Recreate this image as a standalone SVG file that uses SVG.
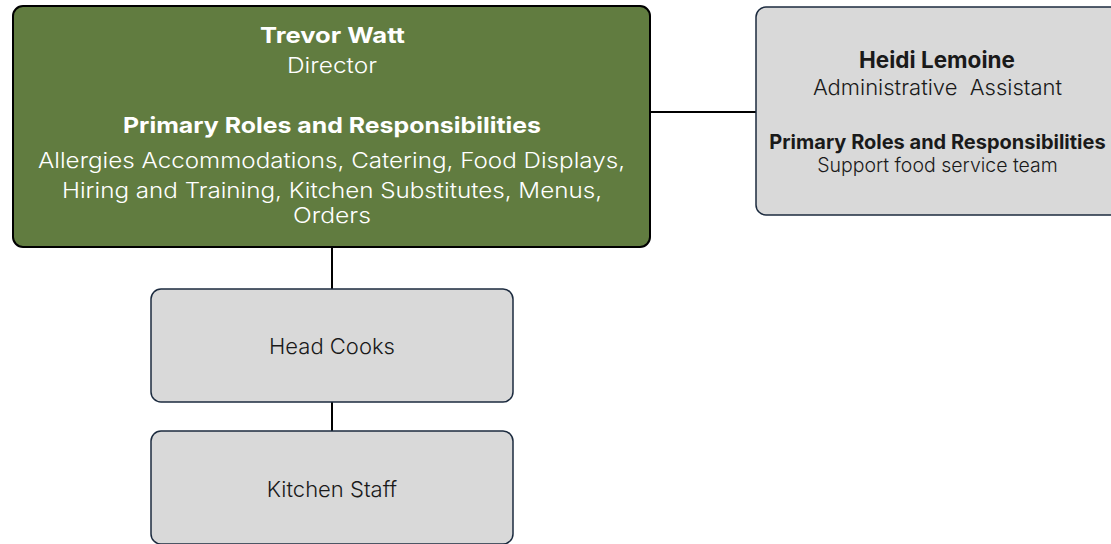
<svg xmlns="http://www.w3.org/2000/svg" width="1111" height="544" viewBox="0 0 1111 544">
<style>
text{font-family:Inter,"Noto Sans","Liberation Sans",sans-serif;text-anchor:middle}
.w{fill:#ffffff}
.d{fill:#1a1a1a}
.b{font-weight:700}
.l{font-weight:300}
.gray{fill:#d9d9d9;stroke:#1c2b3f;stroke-width:1.5}
.conn{stroke:#000;stroke-width:2;fill:none}
</style>
<rect width="1111" height="544" fill="#ffffff"/>
<g id="connectors">
<line class="conn" x1="650" y1="112" x2="757" y2="112"/>
<line class="conn" x1="332" y1="247" x2="332" y2="289"/>
<line class="conn" x1="332" y1="402" x2="332" y2="431"/>
</g>
<g id="director">
<rect x="13" y="6" width="637" height="241" rx="10" fill="#617c40" stroke="#000" stroke-width="2"/>
<text class="w b" x="332.5" y="43" font-size="22" textLength="145" lengthAdjust="spacingAndGlyphs">Trevor Watt</text>
<text class="w l" x="332" y="73" font-size="22" textLength="90" lengthAdjust="spacingAndGlyphs">Director</text>
<text class="w b" x="332" y="133" font-size="22" textLength="418" lengthAdjust="spacingAndGlyphs">Primary Roles and Responsibilities</text>
<text class="w l" x="331.5" y="168" font-size="21.5" textLength="587" lengthAdjust="spacingAndGlyphs">Allergies Accommodations, Catering, Food Displays,</text>
<text class="w l" x="332" y="198" font-size="21.5" textLength="540" lengthAdjust="spacingAndGlyphs">Hiring and Training, Kitchen Substitutes, Menus,</text>
<text class="w l" x="332" y="223" font-size="21.5" textLength="78" lengthAdjust="spacingAndGlyphs">Orders</text>
</g>
<g id="assistant">
<rect class="gray" x="756" y="7" width="370" height="208" rx="10"/>
<text class="d b" x="937" y="68" font-size="22.5">Heidi Lemoine</text>
<text class="d l" x="937.5" y="95" font-size="22" xml:space="preserve">Administrative  Assistant</text>
<text class="d b" x="937.5" y="149" font-size="20">Primary Roles and Responsibilities</text>
<text class="d l" x="937.5" y="172" font-size="19.5">Support food service team</text>
</g>
<g id="headcooks">
<rect class="gray" x="151" y="289" width="362" height="113" rx="10"/>
<text class="d l" x="332" y="354" font-size="22">Head Cooks</text>
</g>
<g id="kitchenstaff">
<rect class="gray" x="151" y="431" width="362" height="113" rx="10"/>
<text class="d l" x="332" y="497" font-size="22">Kitchen Staff</text>
</g>
</svg>
